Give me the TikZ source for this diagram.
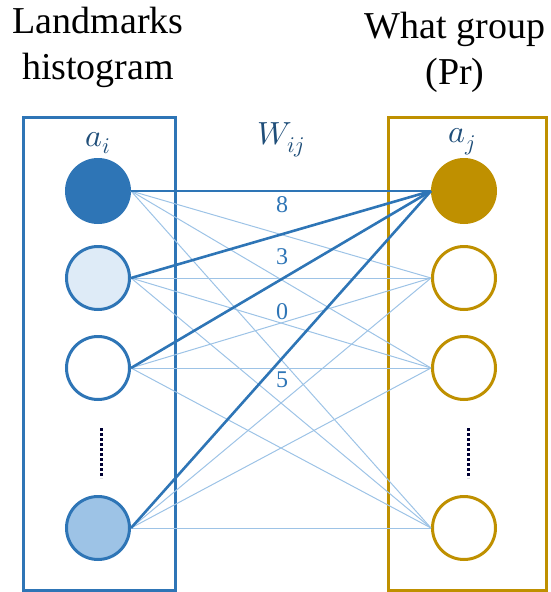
\documentclass[tikz,border=0pt]{standalone}
\usepackage{fontspec}
\usepackage{unicode-math}
\setmainfont{Liberation Serif}
\setmathfont{Latin Modern Math}
\definecolor{bdark}{HTML}{2E75B6}
\definecolor{blight}{HTML}{DEEBF7}
\definecolor{bmid}{HTML}{9DC3E6}
\definecolor{gold}{HTML}{BF9000}
\definecolor{mathblue}{HTML}{1F4E79}
\begin{document}
\begin{tikzpicture}[x=1pt,y=-1pt,
  lbox/.style={draw=bdark,line width=3pt},
  rbox/.style={draw=gold,line width=3pt},
  lcirc/.style={circle,draw=bdark,line width=3pt,minimum size=63pt,inner sep=0pt},
  rcirc/.style={circle,draw=gold,line width=3pt,minimum size=63pt,inner sep=0pt},
  heavy/.style={draw=bdark,line width=2.6pt},
  light/.style={draw=bmid,line width=1pt},
  title/.style={font=\fontsize{38}{46}\selectfont,align=center},
  mlab/.style={text=mathblue,font=\fontsize{32}{34}\selectfont},
  wlab/.style={text=bdark,font=\fontsize{24}{26}\selectfont},
  dotsline/.style={draw=black!80!blue,line width=3pt,dotted}]
\useasboundingbox (0,0) rectangle (550,592);
\node[title] (tl) at (98,47) {Landmarks\\histogram};
\node[title] (tr) at (455,52) {What group\\(Pr)};
\node[lbox,minimum width=152pt,minimum height=473pt,inner sep=0pt] (boxl) at (99,353.5) {};
\node[rbox,minimum width=158pt,minimum height=473pt,inner sep=0pt] (boxr) at (467,353.5) {};
\node[mlab] (ai) at (98,143) {$a_i$};
\node[mlab] (wij) at (281,140) {$W_{ij}$};
\node[mlab] (aj) at (462,142) {$a_j$};
\node[lcirc,fill=bdark] (l1) at (98,191) {};
\node[lcirc,fill=blight] (l2) at (98,278) {};
\node[lcirc,fill=white] (l3) at (98,368) {};
\node[lcirc,fill=bmid] (l4) at (98,528) {};
\node[rcirc,fill=gold] (r1) at (464,191) {};
\node[rcirc,fill=white] (r2) at (464,278) {};
\node[rcirc,fill=white] (r3) at (464,368) {};
\node[rcirc,fill=white] (r4) at (464,528) {};
\coordinate (d1a) at (101,428);
\coordinate (d1b) at (101,478);
\coordinate (d2a) at (468,428);
\coordinate (d2b) at (468,478);
\draw[dotsline] (d1a) -- (d1b);
\draw[dotsline] (d2a) -- (d2b);
\foreach \i in {1,2,3,4}{
  \foreach \j in {2,3,4}{
    \draw[light] (l\i.east) -- (r\j.west);
  }
}
\foreach \i in {1,2,3,4}{
  \draw[heavy] (l\i.east) -- (r1.west);
}
\node[wlab] (w8) at (282,205) {8};
\node[wlab] (w3) at (282,257) {3};
\node[wlab] (w0) at (282,312) {0};
\node[wlab] (w5) at (282,380) {5};
\end{tikzpicture}
\end{document}
